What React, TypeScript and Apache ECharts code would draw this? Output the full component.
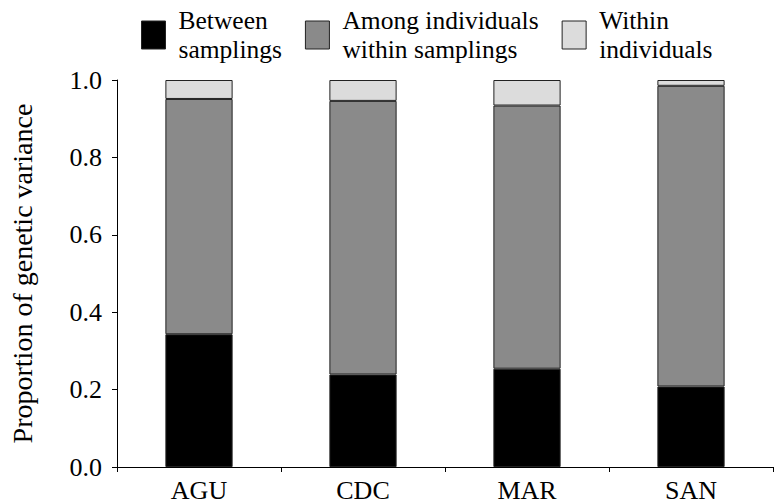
import React, { useEffect, useRef } from "react";
import * as echarts from "echarts";

const categories = ["AGU", "CDC", "MAR", "SAN"];
const betweenSamplings = [0.343, 0.239, 0.254, 0.208];
const amongIndividuals = [0.608, 0.707, 0.68, 0.777];
const withinIndividuals = [0.049, 0.054, 0.066, 0.015];
const seriesNames = ["Between\nsamplings", "Among individuals\nwithin samplings", "Within\nindividuals"];
const seriesColors = ["#000000", "#8a8a8a", "#dcdcdc"];

const FONT = '"Liberation Serif", "Times New Roman", serif';

export default function App() {
  const ref = useRef<HTMLDivElement>(null);
  useEffect(() => {
    if (!ref.current) return;
    const chart = echarts.init(ref.current, null, { renderer: "svg" });
    const values = [betweenSamplings, amongIndividuals, withinIndividuals];
    chart.setOption({
      animation: false,
      textStyle: { fontFamily: FONT, color: "#000" },
      legend: {
        top: 1,
        left: 136,
        itemWidth: 24,
        itemHeight: 28,
        itemGap: 23,
        icon: "rect",
        selectedMode: false,
        data: seriesNames.map((n) => ({ name: n, itemStyle: { borderColor: "#222", borderWidth: 1 } })),
        textStyle: { fontFamily: FONT, fontSize: 25.5, color: "#000", lineHeight: 29, padding: [0, 0, 0, 8] },
      },
      grid: { left: 100, right: 3, top: 80, bottom: 37 },
      xAxis: {
        type: "category",
        data: categories,
        axisLine: { lineStyle: { color: "#000", width: 1 } },
        axisTick: { show: true, length: 5, alignWithLabel: false, lineStyle: { color: "#000" } },
        axisLabel: { fontFamily: FONT, fontSize: 26, color: "#000", margin: 10 },
      },
      yAxis: {
        type: "value",
        min: 0,
        max: 1,
        interval: 0.2,
        name: "Proportion of genetic variance",
        nameLocation: "middle",
        nameGap: 81,
        nameTextStyle: { fontFamily: FONT, fontSize: 28, color: "#000" },
        splitLine: { show: false },
        axisLine: { show: true, lineStyle: { color: "#000", width: 1 } },
        axisTick: { show: true, length: 5, lineStyle: { color: "#000" } },
        axisLabel: {
          fontFamily: FONT,
          fontSize: 26,
          color: "#000",
          margin: 15,
          formatter: (v: number) => v.toFixed(1),
        },
      },
      series: seriesNames.map((name, i) => ({
        name,
        type: "bar",
        stack: "total",
        barWidth: "41%",
        data: values[i],
        itemStyle: { color: seriesColors[i], borderColor: "#222", borderWidth: 1 },
      })),
    });
    return () => chart.dispose();
  }, []);
  return <div ref={ref} style={{ position: "absolute", left: 0, top: 0, width: 776, height: 504 }} />;
}
